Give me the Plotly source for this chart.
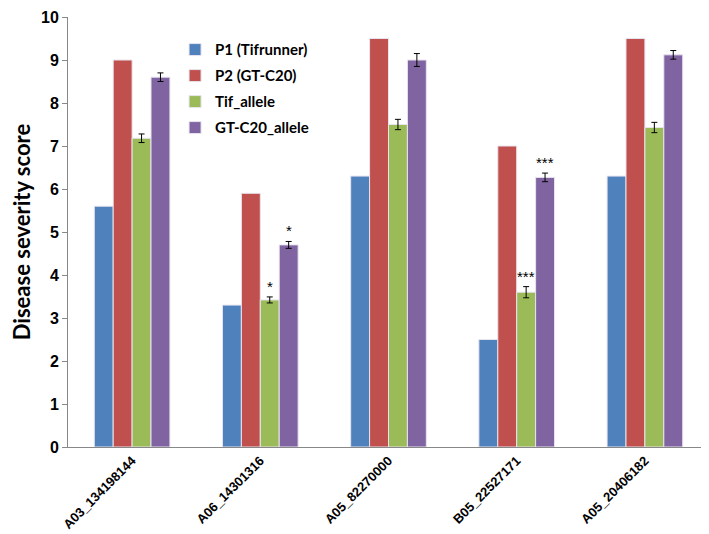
import plotly.graph_objects as go

categories = ["A03_134198144", "A06_14301316", "A05_82270000", "B05_22527171", "A05_20406182"]
series_names = ["P1 (Tifrunner)", "P2 (GT-C20)", "Tif_allele", "GT-C20_allele"]
p1 = [5.6, 3.3, 6.3, 2.5, 6.3]
p2 = [9.0, 5.9, 9.5, 7.0, 9.5]
tif = [7.18, 3.42, 7.5, 3.6, 7.43]
gt = [8.6, 4.7, 9.0, 6.27, 9.12]
tif_err = [0.1, 0.07, 0.12, 0.13, 0.12]
gt_err = [0.1, 0.08, 0.15, 0.1, 0.1]
tif_sig = ["", "*", "", "***", ""]
gt_sig = ["", "*", "", "***", ""]
y_ticks = [0, 1, 2, 3, 4, 5, 6, 7, 8, 9, 10]

colors = ["#4F81BD", "#C0504D", "#9BBB59", "#8064A2"]

fig = go.Figure()
data = [p1, p2, tif, gt]
errs = [None, None, tif_err, gt_err]
for name, vals, err, col in zip(series_names, data, errs, colors):
    kw = {}
    if err is not None:
        kw["error_y"] = dict(type="data", array=err, visible=True, color="black", thickness=1, width=3)
    fig.add_trace(go.Bar(x=categories, y=vals, name=name, legendgroup=name,
                         marker=dict(color=col, line=dict(color="#E8E4EE", width=1)), **kw))

bargap = 0.41
bw = (1 - bargap) / 4
annotations = []
for sig_list, vals, err, idx in [(tif_sig, tif, tif_err, 2), (gt_sig, gt, gt_err, 3)]:
    for i, s in enumerate(sig_list):
        if s:
            annotations.append(dict(x=i + (idx - 1.5) * bw, y=vals[i] + err[i], text=s,
                                    showarrow=False, yanchor="bottom", yshift=0,
                                    font=dict(family="Liberation Sans", size=15, color="black")))

fig.update_layout(
    width=701, height=526,
    margin=dict(l=54, r=0, t=9, b=87),
    plot_bgcolor="white", paper_bgcolor="white",
    barmode="group", bargap=bargap, bargroupgap=0,
    showlegend=True,
    legend=dict(x=0.167, y=0.962, xanchor="left", yanchor="top",
                font=dict(family="Lato", size=15, color="black", weight="bold"),
                tracegroupgap=3.5, itemwidth=30, bgcolor="rgba(0,0,0,0)"),
    annotations=annotations,
    xaxis=dict(type="category", showline=True, linecolor="#888888", linewidth=1,
               ticks="", tickangle=-45, showgrid=False,
               tickfont=dict(family="Liberation Sans", size=13, color="black", weight="bold")),
    yaxis=dict(range=[0, 10], tickvals=y_ticks, showline=True, linecolor="#888888", linewidth=1,
               ticks="outside", ticklen=5, tickcolor="#888888", showgrid=False, zeroline=False,
               tickfont=dict(family="Liberation Sans", size=16, color="black", weight="bold"),
               title=dict(text="Disease severity score", standoff=18,
                          font=dict(family="Lato", size=22, color="black", weight="bold"))),
)

fig.write_html("out.html")
